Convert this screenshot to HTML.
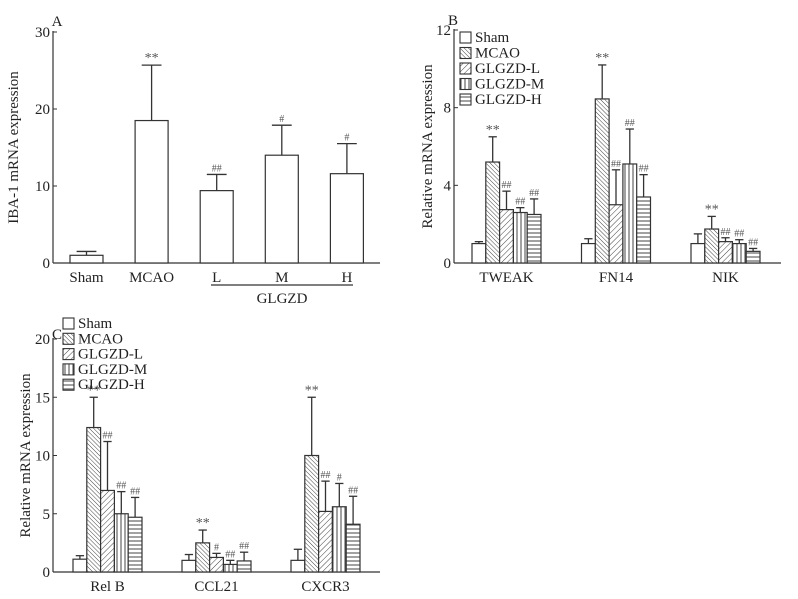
<!DOCTYPE html>
<html><head><meta charset="utf-8"><style>
body{margin:0;background:#fff;}
svg{display:block;font-family:"Liberation Serif",serif;}
</style></head><body>
<svg id="c" width="798" height="599" viewBox="0 0 798 599" xmlns="http://www.w3.org/2000/svg">
<defs>
<pattern id="pMCAO" patternUnits="userSpaceOnUse" width="3" height="3" patternTransform="rotate(-45)"><rect width="3" height="3" fill="#fff"/><line x1="0" y1="0" x2="0" y2="3" stroke="#444" stroke-width="1"/></pattern>
<pattern id="pL" patternUnits="userSpaceOnUse" width="4" height="4" patternTransform="rotate(45)"><rect width="4" height="4" fill="#fff"/><line x1="0" y1="0" x2="0" y2="4" stroke="#444" stroke-width="1"/></pattern>
<pattern id="pM" patternUnits="userSpaceOnUse" width="4" height="4"><rect width="4" height="4" fill="#fff"/><line x1="1" y1="0" x2="1" y2="4" stroke="#444" stroke-width="1"/></pattern>
<pattern id="pH" patternUnits="userSpaceOnUse" width="4" height="4"><rect width="4" height="4" fill="#fff"/><line x1="0" y1="1" x2="4" y2="1" stroke="#444" stroke-width="1"/></pattern>
</defs>
</svg>
<script>
// Panel A data
const aCats = ["Sham","MCAO","L","M","H"];
const aVals = [1.0,18.5,9.4,14.0,11.6];
const aErr = [1.5,25.7,11.5,17.9,15.5];
const aSig = ["","**","##","#","#"];
const aTicks = [0,10,20,30];
// Panel B data
const bCats = ["TWEAK","FN14","NIK"];
const bSham = [1.0,1.0,1.0];
const bMCAO = [5.2,8.45,1.75];
const bL = [2.75,3.0,1.1];
const bM = [2.6,5.1,1.0];
const bH = [2.5,3.4,0.6];
const bErrSham = [1.1,1.25,1.5];
const bErrMCAO = [6.5,10.2,2.4];
const bErrL = [3.7,4.8,1.3];
const bErrM = [2.85,6.9,1.2];
const bErrH = [3.3,4.55,0.75];
const bSigMCAO = ["**","**","**"];
const bSigL = ["##","##","##"];
const bSigM = ["##","##","##"];
const bSigH = ["##","##","##"];
const bTicks = [0,4,8,12];
// Panel C data
const cCats = ["Rel B","CCL21","CXCR3"];
const cSham = [1.1,1.0,1.0];
const cMCAO = [12.4,2.5,10.0];
const cL = [7.0,1.25,5.2];
const cM = [5.0,0.65,5.6];
const cH = [4.7,0.95,4.1];
const cErrSham = [1.4,1.5,1.95];
const cErrMCAO = [15.0,3.6,15.0];
const cErrL = [11.2,1.6,7.8];
const cErrM = [6.9,1.0,7.6];
const cErrH = [6.4,1.7,6.5];
const cSigMCAO = ["**","**","**"];
const cSigL = ["##","#","##"];
const cSigM = ["##","##","#"];
const cSigH = ["##","##","##"];
const cTicks = [0,5,10,15,20];
const seriesNames = ["Sham","MCAO","GLGZD-L","GLGZD-M","GLGZD-H"];
const fills = ["#fff","url(#pMCAO)","url(#pL)","url(#pM)","url(#pH)"];

const svg = document.getElementById('c');
const NS = "http://www.w3.org/2000/svg";
function mk(tag, attrs, parent){const e=document.createElementNS(NS,tag);for(const k in attrs)e.setAttribute(k,attrs[k]);(parent||svg).appendChild(e);return e;}
function txt(s,x,y,size,anchor,fill,parent){const t=mk('text',{x:x,y:y,'font-size':size,'text-anchor':anchor||'middle',fill:fill||'#222'},parent);t.textContent=s;return t;}

function axes(g,x0,y0,y1,xEnd,max,ticks,label,labelX,panel,px,py){
  const sy=v=>y0-(v/max)*(y0-y1);
  const ya=mk('line',{x1:x0,y1:y0,x2:x0,y2:y1-1,stroke:'#333','stroke-width':1.2},g);
  
  const xa=mk('line',{x1:x0,y1:y0,x2:xEnd,y2:y0,stroke:'#333','stroke-width':1.2},g);
  
  ticks.forEach(t=>{const y=sy(t);mk('line',{x1:x0,y1:y,x2:x0+4,y2:y,stroke:'#333'},g);
    const tl=txt(String(t),x0-3,y+5,15,'end','#222',g);
    });
  const yl=txt(label,0,0,15,'middle','#222',g);
  yl.setAttribute('transform','translate('+labelX+','+((y0+y1)/2)+') rotate(-90)');
  
  const pl=txt(panel,px,py,15,'middle','#222',g);
  
  return sy;
}
function bar(g,x,w,v,e,sy,fill,sig,y0,name){
  const top=sy(v),et=sy(e);
  mk('line',{x1:x+w/2,y1:top,x2:x+w/2,y2:et,stroke:'#333','stroke-width':1.3},g);
  mk('line',{x1:x+w/2-w*0.3,y1:et,x2:x+w/2+w*0.3,y2:et,stroke:'#333','stroke-width':1.3},g);
  const r=mk('rect',{x:x,y:top,width:w,height:y0-top,fill:fill,stroke:'#333','stroke-width':1.2},g);
  
  if(sig){const s=txt(sig,x+w/2,et-3,sig.indexOf('*')>=0?14:10,'middle','#555',g);
    }
}
function legend(g,x,y,dy){
  seriesNames.forEach((n,i)=>{const lg=mk('g',{},g);
    
    mk('rect',{x:x,y:y+i*dy-10,width:11,height:11,fill:fills[i],stroke:'#333','stroke-width':1.1},lg);
    txt(n,x+15,y+i*dy,15,'start','#222',lg);});
}

// Panel A
const gA=mk('g',{});
const syA=axes(gA,53,263,32,380,30,aTicks,'IBA-1 mRNA expression',18,'A',57,26);
aCats.forEach((c,i)=>{const x=70+i*65.1;bar(gA,x,33,aVals[i],aErr[i],syA,'#fff',aSig[i],263,'bar-'+c.toLowerCase());
  const t=txt(c,x+16.5,282,15,'middle','#222',gA);});
const gl=mk('line',{x1:211,y1:285,x2:353,y2:285,stroke:'#333','stroke-width':1.2},gA);

const gt=txt('GLGZD',282,303,15,'middle','#222',gA);

function grouped(g,x0,y0,y1,max,ticks,cats,vals,errs,sigs,starts,bw,label,labelX,panel,px,py,lx,ly,ldy){
  const sy=axes(g,x0,y0,y1,x0+327,max,ticks,label,labelX,panel,px,py);
  cats.forEach((c,ci)=>{
    for(let s=0;s<5;s++){bar(g,starts[ci]+s*bw,bw,vals[s][ci],errs[s][ci],sy,fills[s],sigs[s]?sigs[s][ci]:'',y0,'bar-'+c.toLowerCase().replace(' ','')+'-'+seriesNames[s].toLowerCase());}
    const t=txt(c,starts[ci]+bw*2.5,282+(y0-263),15,'middle','#222',g);
    
  });
  legend(g,lx,ly,ldy);
}
const gB=mk('g',{});
grouped(gB,454,263,30,12,bTicks,bCats,[bSham,bMCAO,bL,bM,bH],[bErrSham,bErrMCAO,bErrL,bErrM,bErrH],[null,bSigMCAO,bSigL,bSigM,bSigH],[472,581.5,691],13.8,'Relative mRNA expression',432,'B',453,25,460,42,15.5);
const gC=mk('g',{});
grouped(gC,53,572,339,20,cTicks,cCats,[cSham,cMCAO,cL,cM,cH],[cErrSham,cErrMCAO,cErrL,cErrM,cErrH],[null,cSigMCAO,cSigL,cSigM,cSigH],[73,182,291],13.8,'Relative mRNA expression',30,'C',57,339,63,328,15.3);
</script>
</body></html>
